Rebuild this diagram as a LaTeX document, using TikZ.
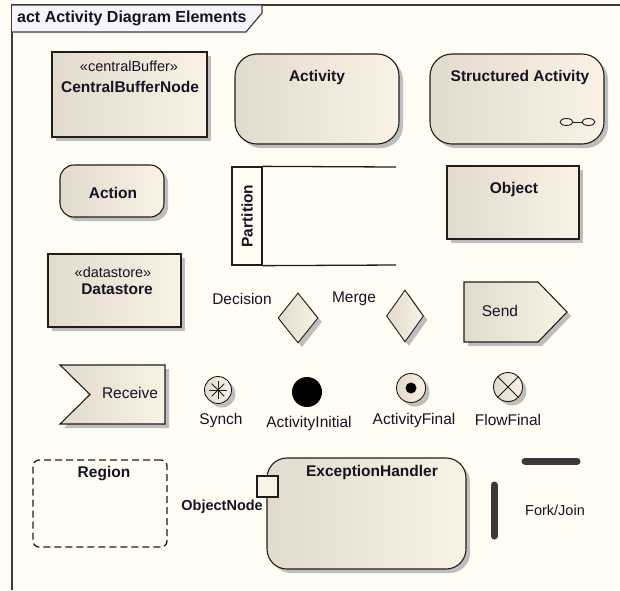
\documentclass[tikz,border=0pt]{standalone}
\usepackage{fontspec}
\setmainfont{Liberation Sans}
\usetikzlibrary{shapes.geometric,shadows}
\definecolor{bgc}{RGB}{255,252,243}
\definecolor{fillL}{RGB}{226,218,204}
\definecolor{fillR}{RGB}{250,242,229}
\definecolor{shadowc}{RGB}{190,190,190}
\definecolor{linec}{RGB}{30,30,30}
\definecolor{framec}{RGB}{60,60,60}
\definecolor{tabc}{RGB}{247,245,251}
\definecolor{barc}{RGB}{58,58,58}
\definecolor{txtc}{RGB}{20,20,35}
\begin{document}
\begin{tikzpicture}[x=1pt,y=-1pt,
  lbl/.style={font=\fontsize{15.5}{17}\selectfont, text=txtc, inner sep=0pt},
  blbl/.style={font=\fontsize{15.5}{17}\selectfont\bfseries, text=txtc, inner sep=0pt},
  stlbl/.style={font=\fontsize{14.5}{16}\selectfont, text=txtc, inner sep=0pt},
  elem/.style={draw=linec, line width=1.1pt, left color=fillL, right color=fillR,
    inner sep=0pt, drop shadow={shadow xshift=4pt, shadow yshift=-4pt, fill=shadowc, opacity=1}},
  rbox/.style={elem, rectangle},
  rrbox/.style={elem, rectangle, rounded corners=#1},
  dia/.style={elem, diamond, line width=0.9pt, drop shadow={shadow xshift=3pt, shadow yshift=-3pt, fill=shadowc, opacity=1}},
  circ/.style={elem, circle, line width=0.9pt, minimum size=#1, drop shadow={shadow xshift=2.5pt, shadow yshift=-2.5pt, fill=shadowc, opacity=1}},
  plain/.style={draw=linec, line width=1.3pt},
  barline/.style={draw=barc, line width=7pt, line cap=round}
]
\fill[bgc] (0,0) rectangle (620,590);
\useasboundingbox (0,0) rectangle (620,590);

% frame
\coordinate (fTR) at (620,5);
\coordinate (fTL) at (12,5);
\coordinate (fBL) at (12,590);
\draw[framec, line width=1.5pt] (fTR) -- (fTL) -- (fBL);
\draw[draw=framec, fill=tabc, line width=1.2pt] (12,5) -- (262,5) -- (262,13) -- (246,32) -- (12,32);
\node[blbl, font=\fontsize{16}{18}\selectfont\bfseries, anchor=west] (title) at (17,18.5) {act Activity Diagram Elements};

% CentralBufferNode
\node[rbox, minimum width=155pt, minimum height=85pt] (cbn) at (129.5,94.5) {};
\node[stlbl] (cbnst) at (129,66) {«centralBuffer»};
\node[blbl] (cbntx) at (130,87) {CentralBufferNode};

% Activity
\node[rrbox=22pt, minimum width=164pt, minimum height=90pt] (act) at (317,99) {};
\node[blbl] (acttx) at (317,77) {Activity};

% Structured Activity
\node[rrbox=22pt, minimum width=174pt, minimum height=90pt] (sact) at (517,99) {};
\node[blbl] (sacttx) at (520,77) {Structured Activity};
\draw[linec, line width=0.9pt] (566.5,122) ellipse [x radius=6.5pt, y radius=3.5pt];
\draw[linec, line width=0.9pt] (588.5,122) ellipse [x radius=6.5pt, y radius=3.5pt];
\draw[linec, line width=0.9pt] (573,122) -- (582,122);

% Action
\node[rrbox=14pt, minimum width=104pt, minimum height=52pt] (action) at (112,191) {};
\node[blbl] (actiontx) at (113,193) {Action};

% Partition
\node[plain, rectangle, minimum width=30pt, minimum height=98pt, inner sep=0pt] (part) at (247,216) {};
\node[blbl, rotate=90] (parttx) at (247,216) {Partition};
\coordinate (partTR) at (396,167);
\coordinate (partBR) at (396,265);
\draw[plain] (part.north east) -- (partTR);
\draw[plain] (part.south east) -- (partBR);

% Object
\node[rbox, minimum width=132pt, minimum height=73pt] (obj) at (513,202.5) {};
\node[blbl] (objtx) at (514,189) {Object};

% Datastore
\node[rbox, minimum width=133pt, minimum height=73pt] (ds) at (114.5,290.5) {};
\node[stlbl] (dsst) at (113,272) {«datastore»};
\node[blbl] (dstx) at (117,289) {Datastore};

% Decision / Merge
\node[lbl] (dectx) at (242,299) {Decision};
\node[dia, minimum width=40pt, minimum height=50pt] (dec) at (298,318) {};
\node[lbl] (mrgtx) at (354,299) {Merge};
\node[dia, minimum width=37pt, minimum height=52pt] (mrg) at (405,316) {};

% Send
\draw[elem] (464,282) -- (538,282) -- (567,312) -- (538,342) -- (464,342) -- cycle;
\node[lbl] (sendtx) at (500,311) {Send};

% Receive
\draw[elem] (60,365) -- (165,365) -- (165,424) -- (60,424) -- (90,394.5) -- cycle;
\node[lbl] (rectx) at (130,393) {Receive};

% Synch
\node[circ=27pt] (synch) at (218,390) {};
\foreach \a in {0,45,...,315} \draw[linec, line width=0.9pt] (synch.center) -- ++(\a:9pt);
\node[lbl] (synchtx) at (221,420) {Synch};

% Activity Initial
\node[circle, fill=black, minimum size=30pt, inner sep=0pt] (ai) at (307,392) {};
\node[lbl] (aitx) at (309,423) {ActivityInitial};

% Activity Final
\node[circ=29pt] (af) at (411,388) {};
\node[circle, fill=black, minimum size=11pt, inner sep=0pt] (afdot) at (af.center) {};
\node[lbl] (aftx) at (414,420) {ActivityFinal};

% Flow Final
\node[circ=29pt] (ff) at (508,387) {};
\draw[linec, line width=0.9pt] (ff.45) -- (ff.225);
\draw[linec, line width=0.9pt] (ff.135) -- (ff.315);
\node[lbl] (fftx) at (508,420) {FlowFinal};

% Region
\node[draw=linec, dashed, dash pattern=on 7pt off 4pt, line width=1.3pt, rounded corners=6pt,
  minimum width=134pt, minimum height=87pt] (region) at (100,503.5) {};
\node[blbl] (regtx) at (104,474) {Region};

% Exception handler
\node[rrbox=20pt, minimum width=199pt, minimum height=111pt] (exh) at (366.5,513.5) {};
\node[blbl] (exhtx) at (372,472) {ExceptionHandler};
\node[lbl, font=\fontsize{14.5}{16}\selectfont\bfseries, anchor=east] (pintx) at (263,507) {ObjectNode};
\node[draw=linec, line width=1.1pt, fill=fillR, minimum size=21pt, inner sep=0pt] (pin) at (267.5,486.5) {};

% Fork / Join
\coordinate (fkA) at (525,461);
\coordinate (fkB) at (577,461);
\draw[barline] (fkA) -- (fkB);
\coordinate (jnA) at (494,485);
\coordinate (jnB) at (494,536);
\draw[barline] (jnA) -- (jnB);
\node[lbl, font=\fontsize{14.5}{16}\selectfont] (fjtx) at (555,510) {Fork/Join};
\end{tikzpicture}
\end{document}
